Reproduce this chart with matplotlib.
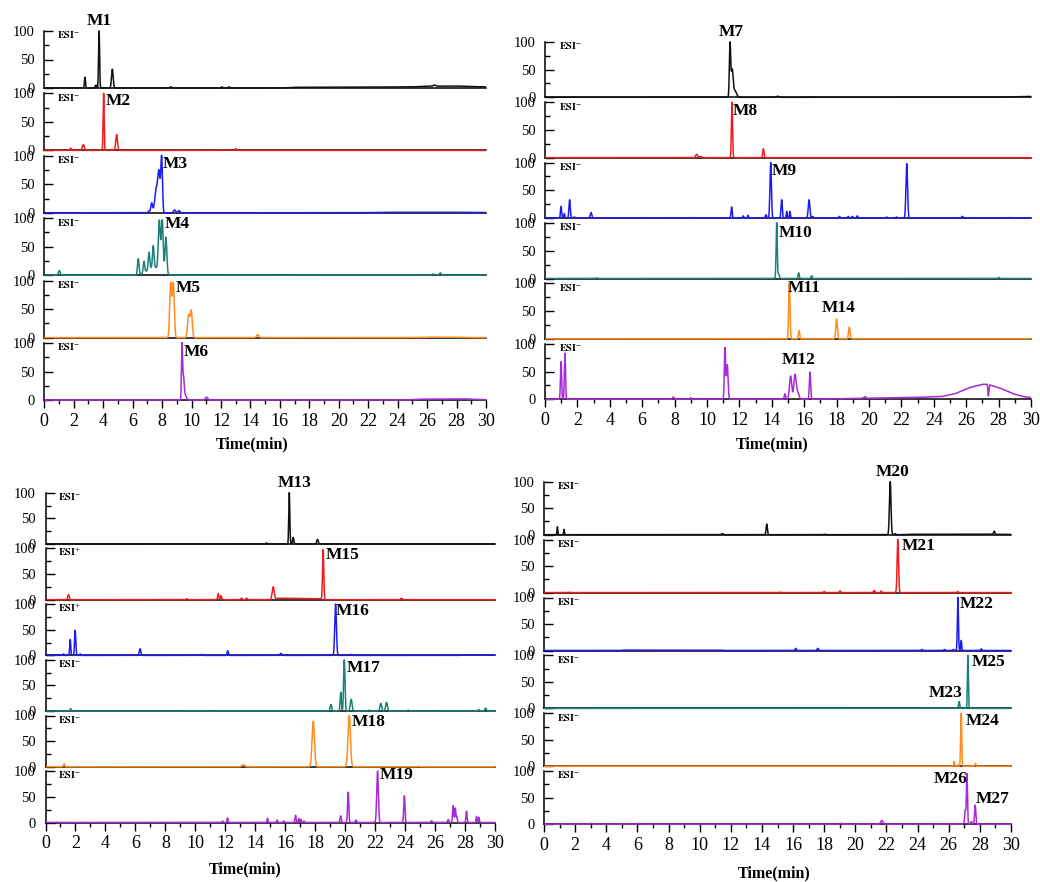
import matplotlib

matplotlib.use("Agg")
import matplotlib.pyplot as plt
import numpy as np
from matplotlib.ticker import MultipleLocator

plt.rcParams["font.family"] = ["Liberation Serif", "DejaVu Serif"]
plt.rcParams["mathtext.fontset"] = "stix"

# ---- data: peaks as (retention time [min], relative abundance [%], peak sigma [min])
# ---- drift: slow baseline as (time, level) points

# panel A (M1-M6)
a1_peaks = [(2.76, 19, .035), (3.5, 5, .05), (3.72, 100, .035), (4.62, 33, .055), (8.58, 2, .06),
            (12.07, 2, .04), (12.54, 2, .04), (26.5, 2, .08)]
a1_drift = [(0, 0), (16, 0), (17, 1.2), (22, 1.5), (25, 2), (26, 3), (28, 3.5), (29, 2.5), (30, 2)]
a2_peaks = [(1.79, 4, .04), (2.65, 10, .07), (4.03, 100, .035), (4.6, 2, .04), (4.91, 28, .06), (13.0, 3, .06)]
a3_peaks = [(7.1, 3, .05), (7.29, 17, .06), (7.6, 40, .1), (7.79, 68, .08), (7.97, 95, .055),
            (8.85, 5, .07), (9.15, 4, .06)]
a3_drift = [(0, 0), (21, 0), (23, 0.8), (27, 1), (30, 0.5)]
a4_peaks = [(1.02, 8, .06), (7.45, 14, .45), (6.38, 28, .05), (6.77, 20, .05), (7.11, 30, .05), (7.4, 38, .05),
            (7.81, 86, .065), (8.01, 90, .065), (8.26, 64, .06), (26.4, 2, .1), (26.9, 4, .06)]
a5_peaks = [(8.58, 95, .065), (8.76, 95, .065), (9.8, 39, .07), (9.98, 47, .07), (14.49, 5, .08)]
a5_drift = [(0, 0), (25, 0), (26, 0.7), (28, 0.7), (29, 0), (30, 0)]
a6_peaks = [(9.35, 95, .035), (9.45, 40, .05), (9.58, 8, .08), (11.02, 5, .08)]
a6_drift = [(0, 0), (24.5, 0), (25.5, 1.5), (28.5, 2), (29.5, 1), (30, 0.5)]

# panel B (M7-M14)
b1_peaks = [(11.42, 95, .04), (11.55, 48, .06), (11.72, 12, .1), (14.36, 2, .08)]
b1_drift = [(0, 0), (28, 0), (29, 1), (30, 1.5)]
b2_peaks = [(9.36, 6, .06), (9.6, 2, .08), (11.54, 100, .035), (13.48, 16, .04)]
b3_peaks = [(0.99, 21, .035), (1.19, 8, .03), (1.52, 33, .04), (1.8, 2, .05), (2.84, 10, .05), (8.99, 1, .04),
            (11.52, 20, .035), (12.24, 4, .03), (12.53, 5, .03), (13.64, 6, .04), (13.93, 100, .045),
            (14.61, 33, .04), (14.92, 12, .03), (15.12, 12, .03), (16.3, 33, .05), (16.52, 3, .04),
            (18.17, 3, .04), (18.72, 3, .04), (18.97, 3, .04), (19.28, 4, .04), (21.09, 2, .04),
            (21.7, 2, .04), (22.33, 98, .05), (25.76, 3, .05), (28.7, 1, .04)]
b4_peaks = [(3.19, 1, .05), (14.3, 100, .035), (14.42, 8, .05), (15.66, 10, .035), (16.46, 5, .035),
            (28.02, 2, .04)]
b5_peaks = [(15.08, 100, .04), (15.68, 15, .04), (18.0, 36, .05), (18.78, 21, .045)]
b6_peaks = [(0.99, 68, .035), (1.23, 83, .035), (7.92, 4, .06), (8.99, 3, .03), (11.11, 92, .04),
            (11.25, 62, .05), (14.81, 10, .04), (15.16, 42, .07), (15.43, 44, .07), (15.6, 12, .08),
            (16.36, 49, .04), (19.75, 3, .06)]
b6_drift = [(0, 0), (16.5, 0), (18, 1), (20, 2), (23, 3.5), (24.5, 5), (25.3, 10), (26.2, 21), (27, 27),
            (27.3, 27), (27.37, 6), (27.45, 26), (28.1, 20), (28.9, 10), (29.5, 5), (30, 3)]

# panel C (M13-M19)
c1_peaks = [(14.75, 2, .04), (16.27, 100, .035), (16.53, 13, .04), (18.15, 9, .05)]
c2_peaks = [(1.53, 10, .05), (9.42, 2, .04), (11.53, 12, .04), (11.71, 8, .04), (13.09, 3, .04),
            (13.43, 3, .04), (15.2, 25, .07), (18.53, 97, .04), (23.76, 3, .05)]
c2_drift = [(0, 0), (15.3, 0), (15.5, 3), (18.3, 2), (18.7, 0), (30, 0)]
c3_peaks = [(1.2, 3, .03), (1.65, 31, .035), (1.98, 49, .04), (2.31, 3, .03), (6.31, 13, .05),
            (10.42, 2, .04), (12.16, 9, .04), (15.71, 4, .06), (19.36, 100, .055), (20.42, 2, .04)]
c3_drift = [(0, 0), (27.5, 0), (28, 1), (30, 1)]
c4_peaks = [(1.67, 5, .03), (19.05, 13, .05), (19.7, 37, .04), (19.94, 100, .045), (20.4, 23, .06),
            (21.6, 2, .05), (22.38, 15, .06), (22.76, 17, .06), (24.2, 2, .05), (28.92, 3, .04),
            (29.37, 6, .05)]
c5_peaks = [(1.24, 6, .04), (13.2, 4, .1), (17.87, 89, .08), (20.27, 100, .08), (24.87, 1, .06)]
c6_peaks = [(0.73, 1, .03), (11.82, 3, .03), (12.15, 9, .035), (14.82, 8, .035), (15.46, 5, .03),
            (15.9, 3, .03), (16.69, 14, .035), (16.91, 8, .03), (17.05, 6, .03), (17.25, 3, .03),
            (19.7, 13, .04), (20.2, 59, .04), (20.72, 5, .04), (22.16, 100, .055), (23.95, 52, .04),
            (25.77, 3, .05), (26.88, 6, .04), (27.21, 33, .04), (27.35, 28, .035), (27.45, 12, .03),
            (28.1, 22, .035), (28.77, 12, .03), (28.92, 10, .03)]

# panel D (M20-M27)
d1_peaks = [(0.86, 15, .025), (1.29, 10, .025), (11.46, 2, .06), (14.31, 20, .04), (18.0, 1, .05),
            (22.24, 100, .05), (22.56, 2, .04), (28.92, 6, .04)]
d1_drift = [(0, 0), (23, 0), (23.5, 0.8), (29, 0.8), (30, 0.5)]
d2_peaks = [(1.63, 1, .04), (15.17, 1, .04), (18.0, 2, .04), (19.02, 3, .04), (21.21, 4, .04),
            (21.66, 3, .03), (22.73, 100, .045), (26.57, 2, .03)]
d3_peaks = [(16.17, 4, .04), (17.59, 4, .05), (24.27, 2, .04), (25.73, 2, .04), (26.3, 2, .03),
            (26.59, 100, .035), (26.8, 19, .03), (28.09, 3, .04)]
d3_drift = [(0, 0), (5, 0), (5.05, 0.7), (11.5, 0.7), (11.55, 0), (30, 0)]
d4_peaks = [(26.67, 13, .035), (27.23, 100, .03)]
d5_peaks = [(26.35, 9, .03), (26.6, 3, .03), (26.8, 100, .035), (27.5, 2, .03), (27.72, 5, .035)]
d6_peaks = [(3.02, 2, .05), (6.06, 2, .04), (19.13, 2, .05), (21.7, 7, .08), (27.06, 26, .04),
            (27.17, 95, .035), (27.45, 5, .04), (27.7, 36, .04)]

ion_modes = [
    ["-", "-", "-", "-", "-", "-"],
    ["-", "-", "-", "-", "-", "-"],
    ["-", "+", "+", "-", "-", "-"],
    ["-", "-", "-", "-", "-", "-"],
]

TRACE_COLORS = ["#111111", "#f01c1c", "#1c1cf0", "#1b8078", "#ff8c1f", "#a82ad6"]
W, H = 1040, 882
TIME = np.linspace(0, 30, 12001)

# panel geometry in pixels: left, right, first zero line, strip spacing, 0->100 height
PANELS = [
    (44.3, 486.0, 88.0, 62.4, 57.0),
    (545.0, 1031.0, 97.3, 60.4, 55.5),
    (45.5, 495.0, 544.0, 55.7, 51.3),
    (544.0, 1011.0, 534.7, 57.9, 53.0),
]

panel_traces = [
    [(a1_peaks, a1_drift), (a2_peaks, None), (a3_peaks, a3_drift), (a4_peaks, None), (a5_peaks, a5_drift),
     (a6_peaks, a6_drift)],
    [(b1_peaks, b1_drift), (b2_peaks, None), (b3_peaks, None), (b4_peaks, None), (b5_peaks, None),
     (b6_peaks, b6_drift)],
    [(c1_peaks, None), (c2_peaks, c2_drift), (c3_peaks, c3_drift), (c4_peaks, None), (c5_peaks, None),
     (c6_peaks, None)],
    [(d1_peaks, d1_drift), (d2_peaks, None), (d3_peaks, d3_drift), (d4_peaks, None), (d5_peaks, None),
     (d6_peaks, None)],
]

# peak labels: (panel, strip, text, x [min], y [%], ha, va)
LABELS = [
    (0, 0, "M1", 3.72, 103, "center", "bottom"),
    (0, 1, "M2", 4.15, 86, "left", "center"),
    (0, 2, "M3", 8.05, 85, "left", "center"),
    (0, 3, "M4", 8.2, 89, "left", "center"),
    (0, 4, "M5", 8.9, 87, "left", "center"),
    (0, 5, "M6", 9.5, 84, "left", "center"),
    (1, 0, "M7", 11.5, 103, "center", "bottom"),
    (1, 1, "M8", 11.6, 84, "left", "center"),
    (1, 2, "M9", 14.0, 84, "left", "center"),
    (1, 3, "M10", 14.4, 82, "left", "center"),
    (1, 4, "M11", 15.0, 92, "left", "center"),
    (1, 4, "M14", 18.1, 55, "center", "center"),
    (1, 5, "M12", 15.65, 70, "center", "center"),
    (2, 0, "M13", 16.6, 104, "center", "bottom"),
    (2, 1, "M15", 18.7, 87, "left", "center"),
    (2, 2, "M16", 19.4, 87, "left", "center"),
    (2, 3, "M17", 20.1, 84, "left", "center"),
    (2, 4, "M18", 20.45, 88, "left", "center"),
    (2, 5, "M19", 22.3, 92, "left", "center"),
    (3, 0, "M20", 22.4, 103, "center", "bottom"),
    (3, 1, "M21", 23.0, 87, "left", "center"),
    (3, 2, "M22", 26.7, 87, "left", "center"),
    (3, 3, "M25", 27.45, 87, "left", "center"),
    (3, 3, "M23", 25.8, 29, "center", "center"),
    (3, 4, "M24", 27.1, 86, "left", "center"),
    (3, 5, "M26", 26.1, 86, "center", "center"),
    (3, 5, "M27", 28.8, 47, "center", "center"),
]

XLABEL_POS = [(252, 444), (772, 444), (245, 869), (774, 873)]


def trace_values(peaks, drift):
    y = np.zeros_like(TIME)
    if drift:
        dt, dy = zip(*drift)
        y += np.interp(TIME, dt, dy)
    for rt, h, w in peaks:
        y += h * np.exp(-0.5 * ((TIME - rt) / w) ** 2)
    return y


fig = plt.figure(figsize=(W / 100, H / 100), dpi=100)
axes = {}

for p, (left, right, b0, step, k) in enumerate(PANELS):
    pad = 2.0
    for i, (peaks, drift) in enumerate(panel_traces[p]):
        base = b0 + i * step
        ax = fig.add_axes([left / W, 1 - (base + pad) / H, (right - left) / W, step / H])
        ax.patch.set_visible(False)
        ax.set_xlim(0, 30)
        ax.set_ylim(-pad * 100 / k, (step - pad) * 100 / k)
        for side in ("top", "right"):
            ax.spines[side].set_visible(False)
        ax.spines["left"].set_bounds(0, 100)
        ax.spines["bottom"].set_position(("data", 0))
        for side in ("left", "bottom"):
            ax.spines[side].set_linewidth(1.1)

        ax.plot(TIME, trace_values(peaks, drift), color=TRACE_COLORS[i], lw=1.1, zorder=3)

        # 0 / 50 / 100 labels of neighbouring strips overlap, as in the source figure
        ax.set_yticks([0, 50, 100])
        ax.yaxis.set_minor_locator(MultipleLocator(25))
        ax.tick_params(axis="y", which="major", direction="in", length=6.5, width=1.0, pad=7, labelsize=10.5)
        ax.tick_params(axis="y", which="minor", direction="in", length=3.5, width=1.0)

        last = i == len(panel_traces[p]) - 1
        if last:
            ax.xaxis.set_major_locator(MultipleLocator(2))
            ax.xaxis.set_minor_locator(MultipleLocator(1))
            ax.tick_params(axis="x", which="major", direction="out", length=6, width=1.0, pad=3, labelsize=13)
            ax.tick_params(axis="x", which="minor", direction="out", length=3, width=1.0)
        else:
            ax.tick_params(axis="x", which="both", bottom=False, labelbottom=False)

        sign = ion_modes[p][i]
        ax.text(0.028, 93, r"$\mathbf{ESI}^{" + sign + "}$", transform=ax.get_yaxis_transform(),
                fontsize=7.5, ha="left", va="center")
        axes[(p, i)] = ax

for p, i, text, x, y, ha, va in LABELS:
    axes[(p, i)].text(x, y, text, fontsize=12.5, fontweight="bold", ha=ha, va=va, zorder=5)

for x, y in XLABEL_POS:
    fig.text(x / W, 1 - y / H, "Time(min)", fontsize=11.5, fontweight="bold", ha="center", va="center")

fig.savefig("out.png", dpi=100)
plt.close(fig)
